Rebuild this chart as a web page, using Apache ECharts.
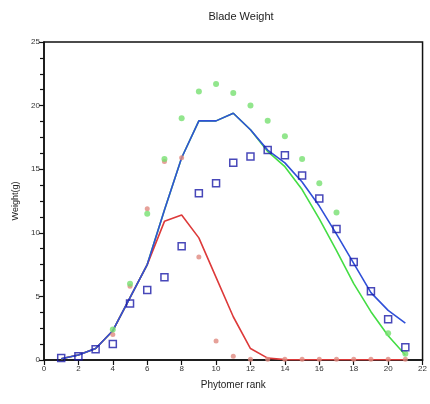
<!DOCTYPE html>
<html>
<head>
<meta charset="utf-8">
<script src="https://cdn.jsdelivr.net/npm/echarts@6/dist/echarts.min.js"></script>
<style>
  html, body { margin: 0; padding: 0; background: #fff; overflow: hidden; }
  #chart { width: 430px; height: 404px; }
</style>
</head>
<body>
<div id="chart"></div>
<script>
// Phytomer ranks and blade weights (g)
const ranks = [1, 2, 3, 4, 5, 6, 7, 8, 9, 10, 11, 12, 13, 14, 15, 16, 17, 18, 19, 20, 21];

// simulated curves
const modelBlue  = [0.1, 0.4, 0.9, 2.3, 4.9, 7.5, 11.8, 15.9, 18.8, 18.8, 19.4, 18.1, 16.5, 15.5, 14.0, 12.1, 9.9, 7.6, 5.3, 3.9, 2.9];
const modelGreen = [0.1, 0.4, 0.9, 2.3, 4.9, 7.5, 11.8, 15.9, 18.8, 18.8, 19.4, 18.1, 16.4, 15.2, 13.4, 11.1, 8.6, 6.0, 3.8, 1.9, 0.4];
const modelRed   = [0.1, 0.4, 0.9, 2.3, 4.9, 7.5, 10.9, 11.4, 9.6, 6.5, 3.4, 0.9, 0.15, 0.03, 0.02, 0.02, 0.02, 0.02, 0.02, 0.02, 0.02];

// observations
const obsBlue  = [0.15, 0.3, 0.85, 1.25, 4.45, 5.5, 6.5, 8.95, 13.1, 13.9, 15.5, 16.0, 16.5, 16.1, 14.5, 12.7, 10.3, 7.7, 5.4, 3.2, 1.0];
const obsGreen = [null, null, null, 2.4, 6.0, 11.5, 15.8, 19.0, 21.1, 21.7, 21.0, 20.0, 18.8, 17.6, 15.8, 13.9, 11.6, null, null, 2.1, 0.5];
const obsRed   = [null, null, null, 2.0, 5.8, 11.9, 15.6, 15.9, 8.1, 1.5, 0.3, 0.05, 0.05, 0.05, 0.05, 0.05, 0.05, 0.05, 0.05, 0.05, 0.05];

const xTicks = [0, 2, 4, 6, 8, 10, 12, 14, 16, 18, 20, 22];
const yTicks = [0, 5, 10, 15, 20, 25];

const pairs = vals => ranks.map((r, i) => [r, vals[i]]).filter(p => p[1] !== null);

const font = '"Liberation Sans", Arial, sans-serif';
const chart = echarts.init(document.getElementById('chart'), null, { renderer: 'canvas', width: 430, height: 404 });

const lineSeries = (vals, color) => ({
  type: 'line', data: pairs(vals), showSymbol: false, symbol: 'none',
  lineStyle: { color, width: 1.6 }, animation: false, z: 2
});

chart.setOption({
  animation: false,
  backgroundColor: '#fff',
  title: {
    text: 'Blade Weight', left: 236, top: 6, textAlign: 'center',
    textStyle: { fontFamily: font, fontSize: 11, fontWeight: 'normal', color: '#222' }
  },
  grid: {
    left: 44, width: 384, top: 42, bottom: 44, show: true,
    borderColor: '#111', borderWidth: 1.5, backgroundColor: 'transparent'
  },
  xAxis: {
    type: 'value', min: xTicks[0], max: xTicks[xTicks.length - 1], interval: 2,
    name: 'Phytomer rank', nameLocation: 'middle', nameGap: 20,
    nameTextStyle: { fontFamily: font, fontSize: 10, color: '#222' },
    axisLine: { show: true, lineStyle: { color: '#111', width: 1.5 } },
    axisTick: { show: true, length: 5, lineStyle: { color: '#111', width: 1.2 } },
    axisLabel: { fontFamily: font, fontSize: 8, color: '#333', margin: 5 },
    splitLine: { show: false }
  },
  yAxis: {
    type: 'value', min: yTicks[0], max: yTicks[yTicks.length - 1], interval: 5,
    name: 'Weight(g)', nameLocation: 'middle', nameGap: 18, nameRotate: 90,
    nameTextStyle: { fontFamily: font, fontSize: 9, color: '#222' },
    axisLine: { show: true, lineStyle: { color: '#111', width: 1.5 } },
    axisTick: { show: true, length: 5, lineStyle: { color: '#111', width: 1.2 } },
    minorTick: { show: true, splitNumber: 4, length: 4, lineStyle: { color: '#111', width: 1.2 } },
    axisLabel: { fontFamily: font, fontSize: 8, color: '#333', margin: 4 },
    splitLine: { show: false }
  },
  series: [
    lineSeries(modelGreen, '#44dd44'),
    lineSeries(modelRed, '#dd3a3a'),
    lineSeries(modelBlue, '#3050d8'),
    {
      type: 'scatter', data: pairs(obsRed), symbol: 'circle', symbolSize: 5,
      itemStyle: { color: '#e08a80' }, z: 3
    },
    {
      type: 'scatter', data: pairs(obsGreen), symbol: 'circle', symbolSize: 6,
      itemStyle: { color: '#77e070' }, z: 4
    },
    {
      type: 'scatter', data: pairs(obsBlue), symbol: 'rect', symbolSize: 7,
      itemStyle: { color: 'rgba(255,255,255,0)', borderColor: '#1a1aa8', borderWidth: 1.5 }, z: 5
    }
  ]
});
</script>
</body>
</html>
